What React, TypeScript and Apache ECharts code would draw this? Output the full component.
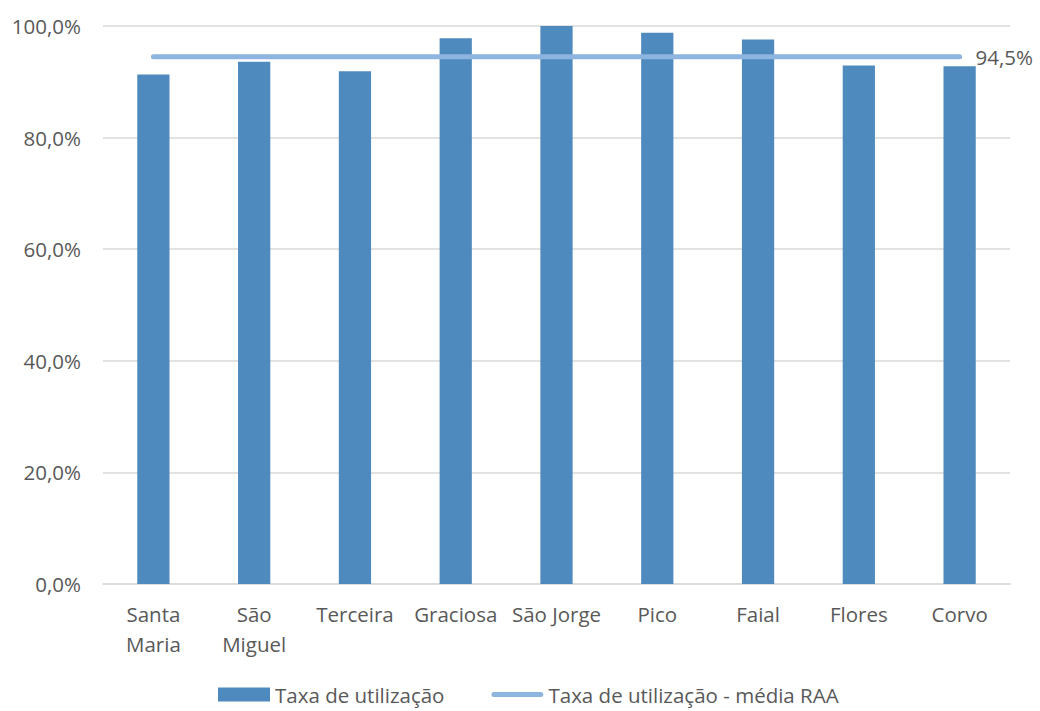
import React, { useEffect, useRef } from "react";
import * as echarts from "echarts";

const categories = ["Santa\nMaria", "São\nMiguel", "Terceira", "Graciosa", "São Jorge", "Pico", "Faial", "Flores", "Corvo"];
const utilizationRates = [91.3, 93.6, 91.9, 97.8, 100.0, 98.8, 97.6, 92.9, 92.8];
const averageRAA = 94.5;
const seriesNames = ["Taxa de utilização", "Taxa de utilização - média RAA"];

const FONT = "Open Sans";
const TEXT = "#595959";
const FS = 20.5;

export default function App() {
  const ref = useRef<HTMLDivElement>(null);
  useEffect(() => {
    const chart = echarts.init(ref.current!, null, { renderer: "svg" });
    const fmt = (v: number) => v.toFixed(1).replace(".", ",") + "%";
    chart.setOption({
      animation: false,
      textStyle: { fontFamily: FONT },
      grid: { left: 103, right: 30, top: 26, bottom: 127, containLabel: false },
      legend: {
        bottom: 1,
        left: 213,
        itemGap: 47,
        itemWidth: 52,
        itemHeight: 14,
        symbolKeepAspect: true,
        textStyle: { fontFamily: FONT, fontSize: FS, color: TEXT },
        data: [
          { name: seriesNames[0], icon: "rect" },
          { name: seriesNames[1], icon: "path://M2.5,0 H49.5 A2.5,2.5 0 0 1 49.5,5 H2.5 A2.5,2.5 0 0 1 2.5,0 Z" },
        ],
      },
      xAxis: {
        type: "category",
        data: categories,
        axisLine: { lineStyle: { color: "#D9D9D9", width: 1.5 } },
        axisTick: { show: false },
        axisLabel: { fontFamily: FONT, fontSize: FS, color: TEXT, margin: 15, lineHeight: 30, interval: 0 },
      },
      yAxis: {
        type: "value",
        min: 0,
        max: 100,
        interval: 20,
        axisLine: { show: false },
        axisTick: { show: false },
        splitLine: { lineStyle: { color: "#D9D9D9", width: 1.5 } },
        axisLabel: { fontFamily: FONT, fontSize: FS, color: TEXT, margin: 22, formatter: fmt },
      },
      series: [
        {
          name: seriesNames[0],
          type: "bar",
          data: utilizationRates,
          barWidth: "32%",
          itemStyle: { color: "#4F8ABE" },
        },
        {
          name: seriesNames[1],
          type: "line",
          data: categories.map(() => averageRAA),
          symbol: "none",
          lineStyle: { color: "#8EB4E0", width: 5, cap: "round" },
          itemStyle: { color: "#8EB4E0" },
          endLabel: {
            show: true,
            formatter: () => fmt(averageRAA),
            fontFamily: FONT,
            fontSize: FS,
            color: TEXT,
            distance: 16,
          },
        },
      ],
    });
    return () => chart.dispose();
  }, []);
  return <div ref={ref} style={{ width: 1040, height: 711, position: "absolute", left: 0, top: 0 }} />;
}
